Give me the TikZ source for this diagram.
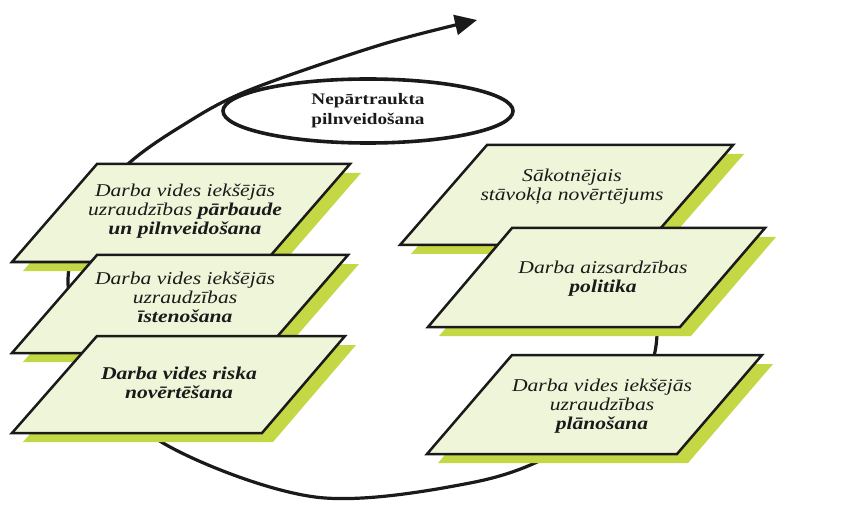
\documentclass[tikz,border=0pt]{standalone}
\usepackage{fontspec}
\setmainfont{Liberation Serif}[FakeStretch=1.2]
\usetikzlibrary{shapes.geometric,arrows.meta}
\definecolor{boxfill}{HTML}{EFF5D8}
\definecolor{shadowgreen}{HTML}{C4D744}
\definecolor{inkgray}{HTML}{1A1A1A}
\tikzset{
  boxline/.style={draw=inkgray, line width=2.5pt, fill=boxfill, line join=miter},
  boxshadow/.style={fill=shadowgreen},
  boxtext/.style={align=center, text=inkgray, font=\fontsize{18}{19}\selectfont\itshape},
  loopline/.style={draw=inkgray, line width=3.2pt},
}
\begin{document}
\begin{tikzpicture}[x=1pt,y=-1pt]
\useasboundingbox[fill=white] (0,0) rectangle (864,521);

% loop / spiral path
\coordinate (p1) at (600,190);
\coordinate (p2) at (645,265);
\coordinate (p3) at (657,335);
\coordinate (p4) at (638,385);
\coordinate (p5) at (560,450);
\coordinate (p6) at (470,483);
\coordinate (p7) at (315,497);
\coordinate (p8) at (163,443);
\coordinate (p9) at (90,365);
\coordinate (p10) at (68,282);
\coordinate (p11) at (88,210);
\coordinate (p12) at (128,164);
\coordinate (p13) at (180,127);
\coordinate (p14) at (247,91);
\coordinate (p15) at (380,45);
\coordinate (tip) at (477,20);

% ellipse
\node[ellipse, draw=inkgray, line width=3.6pt, fill=white, minimum width=290pt, minimum height=64pt,
      align=center, font=\fontsize{16}{20}\selectfont\bfseries, text=inkgray] (title) at (368,111)
      {Nepārtraukta\\pilnveidošana};

\draw[loopline, -{Triangle[length=22pt,width=20pt]}] plot[smooth, tension=0.55] coordinates
  {(p1) (p2) (p3) (p4) (p5) (p6) (p7) (p8) (p9) (p10) (p11) (p12) (p13) (p14) (p15) (tip)};

% left column
\fill[boxshadow] (108,173) -- (361,173) -- (276,271) -- (23,271) -- cycle;
\draw[boxline] (97,164) -- (350,164) -- (265,262) -- (12,262) -- cycle;
\node[boxtext] (l1) at (185,211) {Darba vides iekšējās\\uzraudzības \textbf{pārbaude}\\\textbf{un pilnveidošana}};

\fill[boxshadow] (108,264) -- (359,264) -- (274,362) -- (23,362) -- cycle;
\draw[boxline] (97,255) -- (348,255) -- (263,353) -- (12,353) -- cycle;
\node[boxtext] (l2) at (185,297) {Darba vides iekšējās\\uzraudzības\\\textbf{īstenošana}};

\fill[boxshadow] (108,345) -- (356,345) -- (273,442) -- (23,442) -- cycle;
\draw[boxline] (97,336) -- (345,336) -- (262,433) -- (12,433) -- cycle;
\node[boxtext] (l3) at (179,383) {\textbf{Darba vides riska}\\\textbf{novērtēšana}};

% right column
\fill[boxshadow] (498,154) -- (744,154) -- (657,254) -- (411,254) -- cycle;
\draw[boxline] (487,145) -- (733,145) -- (646,245) -- (400,245) -- cycle;
\node[boxtext] (r1) at (572,187) {Sākotnējais\\stāvokļa novērtējums};

\fill[boxshadow] (523,237) -- (776,237) -- (691,336) -- (439,336) -- cycle;
\draw[boxline] (512,228) -- (765,228) -- (680,327) -- (428,327) -- cycle;
\node[boxtext] (r2) at (603,279) {Darba aizsardzības\\\textbf{politika}};

\fill[boxshadow] (523,364) -- (773,364) -- (688,463) -- (438,463) -- cycle;
\draw[boxline] (512,355) -- (762,355) -- (677,454) -- (427,454) -- cycle;
\node[boxtext] (r3) at (602,406) {Darba vides iekšējās\\uzraudzības\\\textbf{plānošana}};
\end{tikzpicture}
\end{document}
